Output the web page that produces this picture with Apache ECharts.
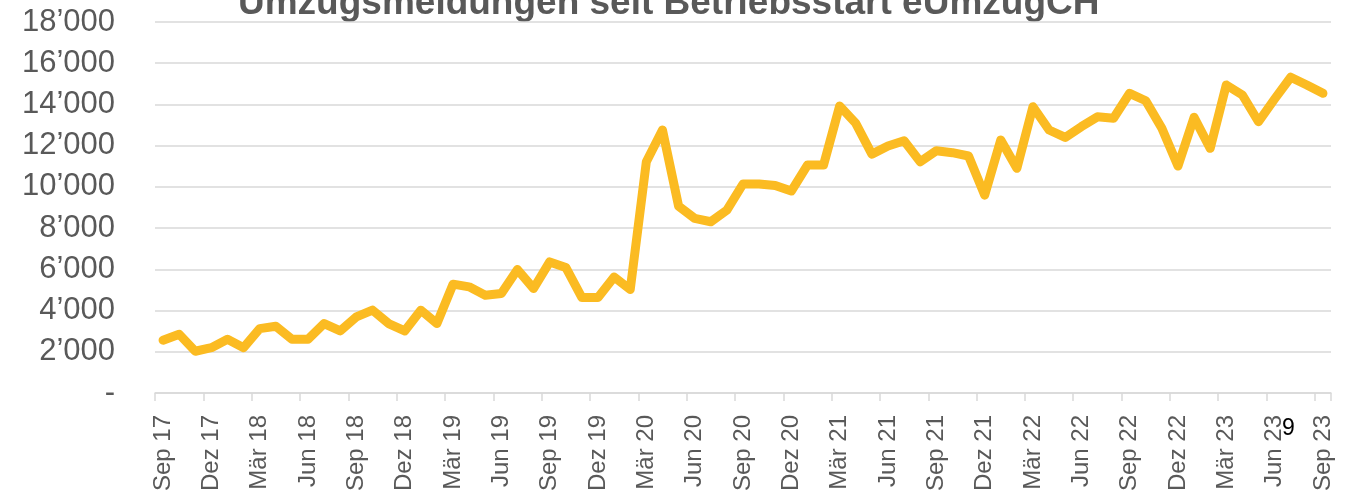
<!DOCTYPE html>
<html>
<head>
<meta charset="utf-8">
<script src="https://cdn.jsdelivr.net/npm/echarts@6/dist/echarts.min.js"></script>
<style>
    html, body { margin: 0; padding: 0; background: #fff; }
    #main { width: 1350px; height: 496px; }
</style>
</head>
<body>
<div id="main"></div>
<script>
var monthNames = ['Jan', 'Feb', 'Mär', 'Apr', 'Mai', 'Jun', 'Jul', 'Aug', 'Sep', 'Okt', 'Nov', 'Dez'];

// Sep 17 .. Sep 23, monthly
var categories = [];
for (var m = 8; m <= 8 + 72; m++) {
    categories.push(monthNames[m % 12] + ' ' + (17 + Math.floor(m / 12)));
}

var meldungen = [
    2560, 2850, 2025, 2200, 2610, 2200, 3125, 3240, 2610, 2610, 3370, 3010,
    3690, 4020, 3370, 3010, 4020, 3370, 5280, 5150, 4745, 4830, 5990, 5070,
    6360, 6090, 4630, 4630, 5630, 5020, 11220, 12760, 9070, 8470, 8310, 8870,
    10140, 10140, 10070, 9800, 11060, 11060, 13925, 13085, 11590, 11980, 12240, 11220,
    11755, 11660, 11500, 9600, 12275, 10900, 13890, 12760, 12400, 12920, 13400, 13330,
    14540, 14180, 12840, 11010, 13375, 11870, 14945, 14460, 13160, 14265, 15320, 14945,
    14540
];

var yTicks = [0, 2000, 4000, 6000, 8000, 10000, 12000, 14000, 16000, 18000];

var titleText = 'Umzugsmeldungen seit Betriebsstart eUmzugCH';
var pageNumber = '9';

function fmtThousands(v) {
    if (v === 0) {
        return '-';
    }
    var s = String(v);
    return s.replace(/\B(?=(\d{3})+(?!\d))/g, '\u2019');
}

var myChart = echarts.init(document.getElementById('main'), null, {renderer: 'canvas'});
var option = {
    backgroundColor: '#ffffff',
    animation: false,
    graphic: [
        {
            type: 'text',
            left: 238,
            top: -15,
            style: {
                text: titleText,
                fill: '#595959',
                font: 'bold 37px "Liberation Sans", Arial, sans-serif'
            }
        },
        {
            type: 'text',
            left: 1282,
            top: 417,
            style: {
                text: pageNumber,
                fill: '#000000',
                font: '23px "Liberation Sans", Arial, sans-serif'
            }
        }
    ],
    grid: {
        left: 155,
        right: 19,
        top: 22,
        bottom: 103,
        outerBoundsMode: 'none'
    },
    xAxis: {
        type: 'category',
        data: categories,
        boundaryGap: true,
        axisLine: {
            lineStyle: { color: '#d9d9d9', width: 1.5 }
        },
        axisTick: {
            show: true,
            interval: 2,
            length: 8,
            lineStyle: { color: '#d9d9d9', width: 1.5 }
        },
        axisLabel: {
            interval: 2,
            rotate: 90,
            margin: 22,
            color: '#595959',
            fontSize: 24,
            fontFamily: '"Liberation Sans", Arial, sans-serif'
        }
    },
    yAxis: {
        type: 'value',
        min: yTicks[0],
        max: yTicks[yTicks.length - 1],
        interval: yTicks[1] - yTicks[0],
        axisLine: { show: false },
        axisTick: { show: false },
        splitLine: {
            lineStyle: { color: '#d9d9d9', width: 1.5 }
        },
        axisLabel: {
            margin: 40,
            color: '#595959',
            fontSize: 31,
            fontFamily: '"Liberation Sans", Arial, sans-serif',
            formatter: fmtThousands
        }
    },
    series: [
        {
            name: 'Umzugsmeldungen',
            type: 'line',
            data: meldungen,
            symbol: 'none',
            smooth: false,
            lineStyle: {
                color: '#fbbb22',
                width: 9,
                cap: 'round',
                join: 'round'
            }
        }
    ]
};
myChart.setOption(option);
</script>
</body>
</html>
